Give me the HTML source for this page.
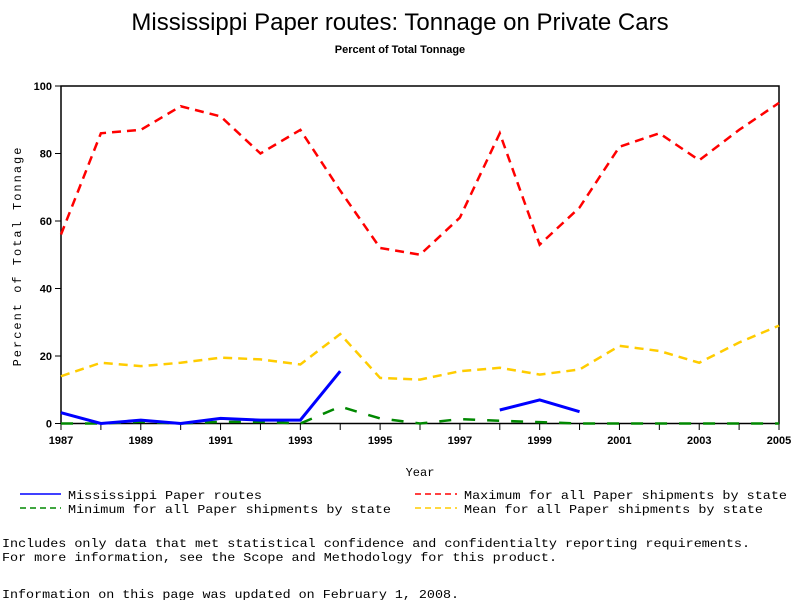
<!DOCTYPE html>
<html><head><meta charset="utf-8"><style>
body{margin:0;background:#fff;width:800px;height:600px;overflow:hidden}
svg{display:block}
text{font-family:"Liberation Sans",sans-serif}
.m{font-family:"Liberation Mono",monospace;font-size:12px}
</style></head><body>
<svg id="chart" width="800" height="600">
<text x="400" y="30" text-anchor="middle" font-size="24">Mississippi Paper routes: Tonnage on Private Cars</text>
<text x="400" y="53" text-anchor="middle" font-size="11" font-weight="bold">Percent of Total Tonnage</text>
<rect x="61" y="86" width="718" height="337.5" fill="none" stroke="#000" stroke-width="1.5"/>
<g id="axes"></g>
<g id="series"></g>
<text x="420" y="476" text-anchor="middle" class="m">Year</text>
<text transform="translate(21,256) rotate(-90)" text-anchor="middle" class="m" letter-spacing="2">Percent of Total Tonnage</text>
<g>
<line x1="20" y1="494" x2="61" y2="494" stroke="#00f" stroke-width="1.5"/>
<text x="68" y="499" class="m" textLength="194" lengthAdjust="spacingAndGlyphs">Mississippi Paper routes</text>
<line x1="20" y1="508" x2="61" y2="508" stroke="#080" stroke-width="1.5" stroke-dasharray="6,4"/>
<text x="68" y="513" class="m" textLength="323" lengthAdjust="spacingAndGlyphs">Minimum for all Paper shipments by state</text>
<line x1="415" y1="494" x2="457" y2="494" stroke="#f00" stroke-width="1.5" stroke-dasharray="6,4"/>
<text x="464" y="499" class="m" textLength="323" lengthAdjust="spacingAndGlyphs">Maximum for all Paper shipments by state</text>
<line x1="415" y1="508" x2="457" y2="508" stroke="#fc0" stroke-width="1.5" stroke-dasharray="6,4"/>
<text x="464" y="513" class="m" textLength="299" lengthAdjust="spacingAndGlyphs">Mean for all Paper shipments by state</text>
</g>
<text x="2" y="547" class="m" textLength="748" lengthAdjust="spacingAndGlyphs">Includes only data that met statistical confidence and confidentialty reporting requirements.</text>
<text x="2" y="561" class="m" textLength="555" lengthAdjust="spacingAndGlyphs">For more information, see the Scope and Methodology for this product.</text>
<text x="2" y="598" class="m" textLength="457" lengthAdjust="spacingAndGlyphs">Information on this page was updated on February 1, 2008.</text>
</svg>
<script>
const years=[1987,1988,1989,1990,1991,1992,1993,1994,1995,1996,1997,1998,1999,2000,2001,2002,2003,2004,2005];
const maxVals=[56,86,87,94,91,80,87,69,52,50,61,86,53,64,82,86,78,87,95];
const meanVals=[14,18,17,18,19.5,19,17.5,26.5,13.5,13,15.5,16.5,14.5,16,23,21.5,18,24,29];
const msVals=[3.2,0,1,0,1.5,1,1,15.5,null,null,null,4,7,3.5,null,null,null,null,null];
const minVals=[0,0,0.5,0,0.5,0.5,0,5,1.5,0,1.3,0.8,0.4,0,0,0,0,0,0];
const yTicks=[0,20,40,60,80,100];
const xTickLabels=[1987,1989,1991,1993,1995,1997,1999,2001,2003,2005];
const NS='http://www.w3.org/2000/svg';
const X=y=>61+(y-1987)*(718/18);
const Y=v=>423.5-v*3.375;
const ax=document.getElementById('axes'),sr=document.getElementById('series');
function mk(tag,at,par){const e=document.createElementNS(NS,tag);for(const k in at)e.setAttribute(k,at[k]);par.appendChild(e);return e;}
yTicks.forEach(t=>{
 mk('line',{x1:55,x2:61,y1:Y(t),y2:Y(t),stroke:'#000'},ax);
 const tx=mk('text',{x:52,y:Y(t)+4,'text-anchor':'end','font-size':11,'font-weight':'bold'},ax);
 tx.textContent=t;
 
 
});
years.forEach(y=>{mk('line',{x1:X(y),x2:X(y),y1:423.5,y2:430,stroke:'#000'},ax);});
xTickLabels.forEach(y=>{
 const tx=mk('text',{x:X(y),y:444,'text-anchor':'middle','font-size':11,'font-weight':'bold'},ax);
 tx.textContent=y;
 
 
});
function line(vals,color,w,dash,name){
 let segs=[],cur=[];
 vals.forEach((v,i)=>{if(v==null){if(cur.length)segs.push(cur);cur=[];}else cur.push(X(years[i])+','+Y(v));});
 if(cur.length)segs.push(cur);
 segs.forEach(s=>{
  const p=mk('polyline',{points:s.join(' '),fill:'none',stroke:color,'stroke-width':w,'stroke-dasharray':dash},sr);
  
  
 });
}
line(maxVals,'#f00',2.5,'9,6','series-maximum');
line(meanVals,'#fc0',2.5,'9,6','series-mean');
line(minVals,'#080',2.5,'12,12','series-minimum');
line(msVals,'#00f',3,'none','series-mississippi');
</script>
</body></html>
